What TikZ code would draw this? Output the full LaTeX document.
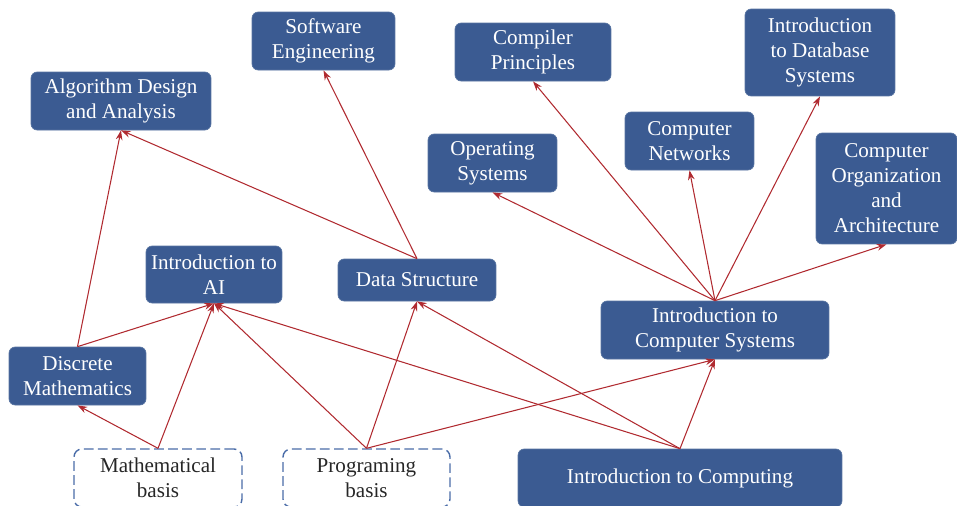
\documentclass[tikz,border=0pt]{standalone}
\usepackage{fontspec}
\setmainfont{Liberation Serif}
\usetikzlibrary{arrows.meta}
\definecolor{boxblue}{HTML}{3B5B92}
\definecolor{linkred}{HTML}{B02A30}
\definecolor{dashblue}{HTML}{4A6CA8}
\begin{document}
\begin{tikzpicture}[>={Stealth[length=5.5pt,width=3.8pt]},x=0.02cm,y=-0.02cm,
	course/.style={fill=boxblue,draw=boxblue!85!white,rounded corners=3.5pt,text=white,align=center,inner sep=0pt,font=\fontsize{12}{14.2}\selectfont},
	basis/.style={draw=dashblue,line width=0.8pt,dash pattern=on 5.5pt off 2.5pt,rounded corners=4.5pt,text=black!85,align=center,inner sep=0pt,font=\fontsize{12}{14.2}\selectfont},
	link/.style={->,draw=linkred,line width=0.6pt}]
	\useasboundingbox (0,0) rectangle (957,505);
	% top row
	\node[course,minimum width=2.86cm,minimum height=1.16cm] (se) at (323.5,41) {Software\\Engineering};
	\node[course,minimum width=3.12cm,minimum height=1.16cm] (cp) at (533,52) {Compiler\\Principles};
	\node[course,minimum width=3cm,minimum height=1.74cm] (db) at (820,52.5) {Introduction\\to Database\\Systems};
	\node[course,minimum width=3.6cm,minimum height=1.16cm] (ada) at (121,101) {Algorithm Design\\and Analysis};
	\node[course,minimum width=2.58cm,minimum height=1.16cm] (os) at (492.5,163) {Operating\\Systems};
	\node[course,minimum width=2.58cm,minimum height=1.16cm] (cn) at (689.5,141) {Computer\\Networks};
	\node[course,minimum width=2.82cm,minimum height=2.22cm] (coa) at (886.5,188.5) {Computer\\Organization\\and\\Architecture};
	% middle row
	\node[course,minimum width=2.72cm,minimum height=1.14cm] (ai) at (214,274.5) {Introduction to\\AI};
	\node[course,minimum width=3.16cm,minimum height=0.84cm] (ds) at (417,280) {Data Structure};
	\node[course,minimum width=4.56cm,minimum height=1.16cm] (ics) at (715,330) {Introduction to\\Computer Systems};
	\node[course,minimum width=2.74cm,minimum height=1.16cm] (dm) at (77.5,376) {Discrete\\Mathematics};
	% bottom row
	\node[basis,minimum width=3.36cm,minimum height=1.16cm] (mb) at (158,478) {Mathematical\\basis};
	\node[basis,minimum width=3.34cm,minimum height=1.16cm] (pb) at (366.5,478) {Programing\\basis};
	\node[course,minimum width=6.48cm,minimum height=1.16cm] (ic) at (680,478) {Introduction to Computing};
	% links
	\draw[link] (mb.north) -- (dm.south);
	\draw[link] (mb.north) -- (ai.south);
	\draw[link] (dm.north) -- (ada.south);
	\draw[link] (dm.north) -- (ai.south);
	\draw[link] (pb.north) -- (ai.south);
	\draw[link] (pb.north) -- (ds.south);
	\draw[link] (pb.north) -- (ics.south);
	\draw[link] (ic.north) -- (ai.south);
	\draw[link] (ic.north) -- (ds.south);
	\draw[link] (ic.north) -- (ics.south);
	\draw[link] (ds.north) -- (ada.south);
	\draw[link] (ds.north) -- (se.south);
	\foreach \t in {os,cp,cn,db,coa}
		\draw[link] (ics.north) -- (\t.south);
\end{tikzpicture}
\end{document}
